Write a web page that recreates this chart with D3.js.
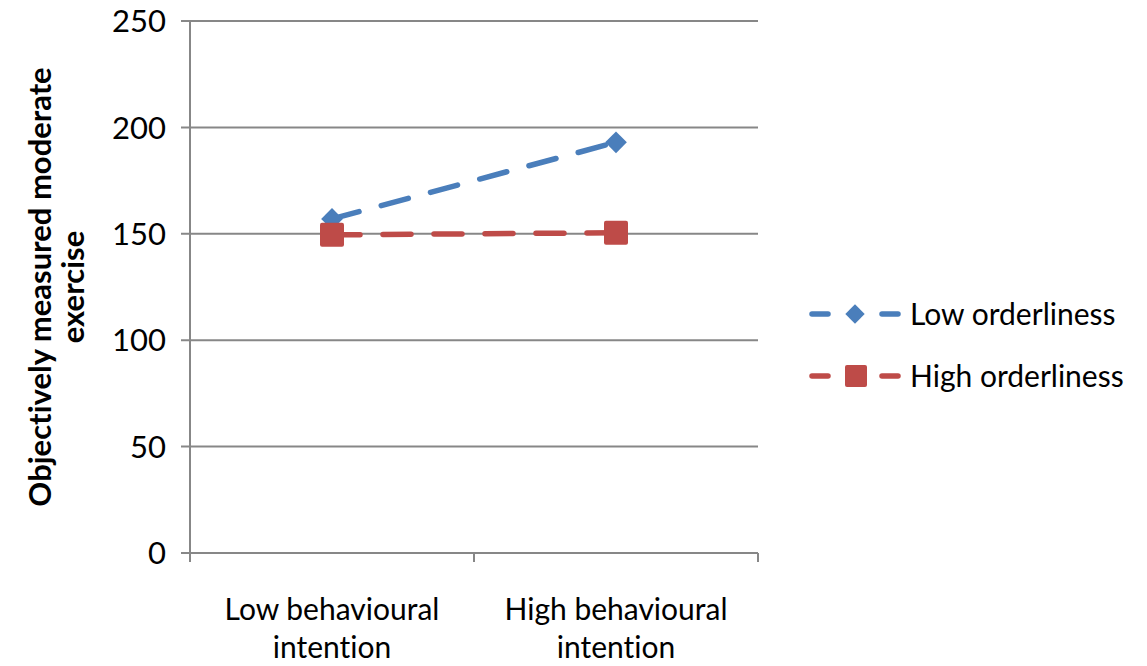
<!DOCTYPE html>
<html><head><meta charset="utf-8">
<script src="https://cdn.jsdelivr.net/npm/d3@7"></script>
<style>body{margin:0;background:#fff}svg{display:block}text{font-variant-ligatures:none}</style>
</head><body>
<svg id="c" width="1147" height="666"></svg>
<script>
const categories = ["Low behavioural intention", "High behavioural intention"];
const categoryLines = [["Low behavioural", "intention"], ["High behavioural", "intention"]];
const seriesNames = ["Low orderliness", "High orderliness"];
const lowOrderliness = [157, 193];
const highOrderliness = [149.5, 150.5];
const yTicks = [0, 50, 100, 150, 200, 250];
const yLabelLines = ["Objectively measured moderate", "exercise"];

const colors = ["#4A7EBB", "#BE4B48"];
const font = "Lato, 'Open Sans', sans-serif";
const svg = d3.select("#c");
const m = {l: 190, r: 758, t: 21, b: 553};
const x = d3.scaleBand().domain(categories).range([m.l, m.r]);
const y = d3.scaleLinear().domain([0, 250]).range([m.b, m.t]);

// gridlines
svg.append("g").selectAll("line").data(yTicks).join("line")
  .attr("x1", m.l - 9).attr("x2", m.r).attr("y1", d => y(d)).attr("y2", d => y(d))
  .attr("stroke", "#878787").attr("stroke-width", 2);
// y axis line
svg.append("line").attr("x1", m.l).attr("x2", m.l).attr("y1", m.t).attr("y2", m.b + 9)
  .attr("stroke", "#878787").attr("stroke-width", 2);
// y tick labels
svg.append("g").selectAll("text").data(yTicks).join("text")
  .attr("x", m.l - 24).attr("y", d => y(d)).attr("dy", "0.36em")
  .attr("text-anchor", "end").attr("font-family", font).attr("font-size", 31)
  .attr("fill", "#000").text(d => d);
// x category ticks
const xt = [m.l, ...categories.map(c => x(c) + x.bandwidth())];
svg.append("g").selectAll("line").data(xt).join("line")
  .attr("x1", d => d).attr("x2", d => d).attr("y1", m.b).attr("y2", m.b + 9)
  .attr("stroke", "#878787").attr("stroke-width", 2);
// x labels
categories.forEach((c, i) => {
  const t = svg.append("text").attr("text-anchor", "middle").attr("font-family", font)
    .attr("font-size", 30).attr("fill", "#000");
  categoryLines[i].forEach((ln, j) => {
    t.append("tspan").attr("x", x(c) + x.bandwidth() / 2).attr("y", 620 + j * 38).text(ln);
  });
});
// y label
const yl = svg.append("text").attr("transform", `translate(0,${(m.t + m.b) / 2}) rotate(-90)`)
  .attr("text-anchor", "middle").attr("font-family", font).attr("font-size", 31)
  .attr("font-weight", "bold").attr("fill", "#000");
yLabelLines.forEach((ln, j) => yl.append("tspan").attr("x", 0).attr("y", 51 + j * 33).text(ln));

// series
const series = [lowOrderliness, highOrderliness];
const line = d3.line().x((d, i) => x(categories[i]) + x.bandwidth() / 2).y(d => y(d));
const diamond = d3.symbol().type(d3.symbolDiamond2).size(300);
series.forEach((vals, si) => {
  svg.append("path").attr("d", line(vals)).attr("fill", "none").attr("stroke", colors[si])
    .attr("stroke-width", 5.5).attr("stroke-dasharray", "28,23").attr("stroke-linecap", "round");
});
series.forEach((vals, si) => {
  const g = svg.append("g");
  vals.forEach((v, i) => {
    const cx = x(categories[i]) + x.bandwidth() / 2, cy = y(v);
    if (si === 0) {
      g.append("path").attr("d", diamond()).attr("transform", `translate(${cx},${cy})`).attr("fill", colors[0]);
    } else {
      g.append("rect").attr("x", cx - 12).attr("y", cy - 12).attr("width", 24).attr("height", 24)
        .attr("rx", 2).attr("fill", colors[1]);
    }
  });
});

// legend
const ly = [314, 376];
seriesNames.forEach((n, i) => {
  const g = svg.append("g");
  g.append("line").attr("x1", 812).attr("x2", 828).attr("y1", ly[i]).attr("y2", ly[i])
    .attr("stroke", colors[i]).attr("stroke-width", 5.5).attr("stroke-linecap", "round");
  g.append("line").attr("x1", 882).attr("x2", 898).attr("y1", ly[i]).attr("y2", ly[i])
    .attr("stroke", colors[i]).attr("stroke-width", 5.5).attr("stroke-linecap", "round");
  if (i === 0) g.append("path").attr("d", d3.symbol().type(d3.symbolDiamond2).size(240)()).attr("transform", `translate(855,${ly[i]})`).attr("fill", colors[0]);
  else g.append("rect").attr("x", 845).attr("y", ly[i] - 11).attr("width", 22).attr("height", 22).attr("rx", 2).attr("fill", colors[1]);
  g.append("text").attr("x", 910).attr("y", ly[i]).attr("dy", "0.36em").attr("font-family", font)
    .attr("font-size", 30).attr("fill", "#000").text(n);
});
</script>
</body></html>
